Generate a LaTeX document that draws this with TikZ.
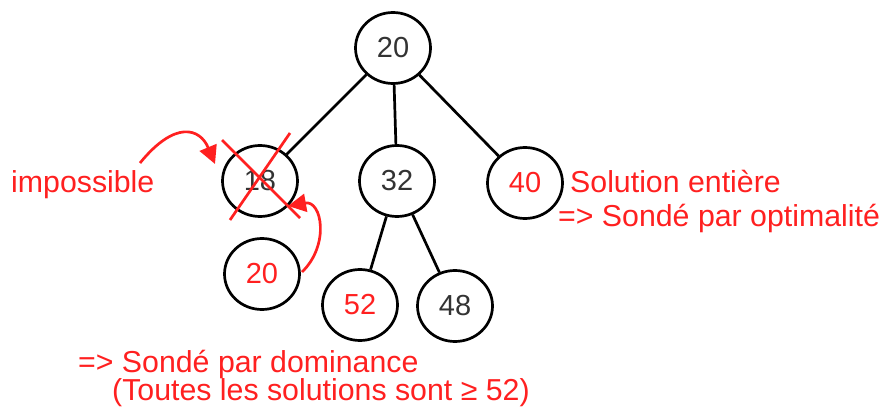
\documentclass[tikz,border=0pt]{standalone}
\usepackage{fontspec}
\setmainfont{Liberation Sans}
\usetikzlibrary{shapes.geometric,arrows.meta}
\definecolor{redx}{RGB}{255,32,32}
\definecolor{numgray}{RGB}{51,51,51}
\tikzset{
  treenode/.style={ellipse,draw=black,line width=2.7pt,minimum width=75pt,minimum height=71pt,inner sep=0pt,font=\fontsize{29}{34}\selectfont,text=numgray},
  rednum/.style={text=redx},
  edge/.style={line width=2.7pt,black},
  note/.style={text=redx,font=\fontsize{30.3}{35}\selectfont,inner sep=0pt,anchor=base west},
  redline/.style={draw=redx,line width=2.7pt},
  redarrow/.style={draw=redx,line width=2.7pt,-{Triangle[length=18pt,width=18pt]}}
}
\begin{document}
\begin{tikzpicture}[x=1pt,y=-1pt]
\useasboundingbox (0,0) rectangle (880,411);
\node[treenode] (root) at (393,48) {20};
\node[treenode] (n18) at (260,181) {18};
\node[treenode] (n32) at (397,181) {32};
\node[treenode,rednum] (n40) at (525,183) {40};
\node[treenode,rednum] (n20) at (262,274) {20};
\node[treenode,rednum] (n52) at (360,305) {52};
\node[treenode] (n48) at (455,306) {48};
\draw[edge] (root) -- (n18);
\draw[edge] (root) -- (n32);
\draw[edge] (root) -- (n40);
\draw[edge] (n32) -- (n52);
\draw[edge] (n32) -- (n48);
% cross
\coordinate (c1a) at (222,140);
\coordinate (c1b) at (300,218);
\coordinate (c2a) at (290,133);
\coordinate (c2b) at (230,220);
\draw[redline] (c1a) -- (c1b);
\draw[redline] (c2a) -- (c2b);
% arrows
\coordinate (a1s) at (140,163);
\coordinate (a1e) at (215,164);
\draw[redarrow] (a1s) .. controls (175,120) and (200,128) .. (a1e);
\coordinate (a2s) at (302,272);
\coordinate (a2e) at (288,206);
\draw[redarrow] (a2s) .. controls (330,245) and (322,200) .. (a2e);
% notes
\node[note] (imp) at (11,193) {impossible};
\node[note] (sol) at (570,193) {Solution entière};
\node[note] (opt) at (558,227) {=> Sondé par optimalité};
\node[note] (dom) at (78,372) {=> Sondé par dominance};
\node[note] (tout) at (112,400) {(Toutes les solutions sont ≥ 52)};
\end{tikzpicture}
\end{document}
